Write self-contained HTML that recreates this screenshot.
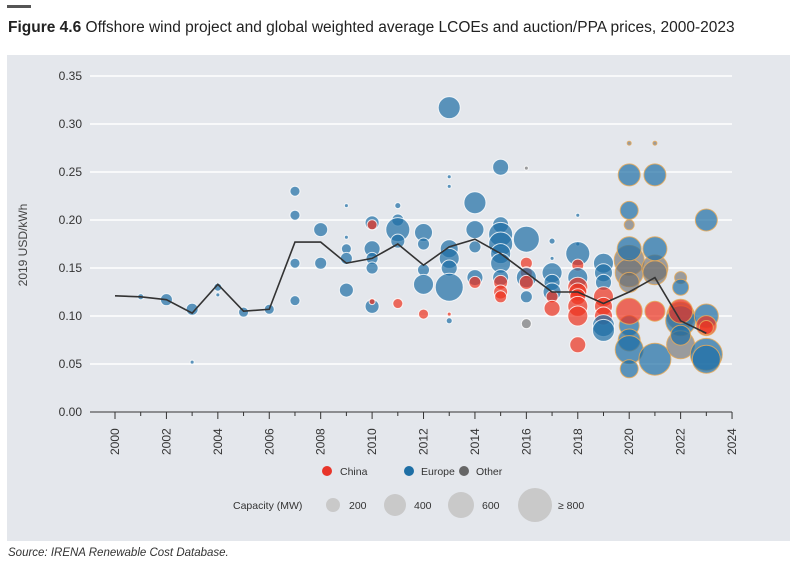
<!DOCTYPE html><html><head><meta charset="utf-8"><style>
body{margin:0;background:#fff;width:800px;height:566px;overflow:hidden;font-family:"Liberation Sans",sans-serif}
</style></head><body>
<svg width="800" height="566" xmlns="http://www.w3.org/2000/svg" font-family="Liberation Sans, sans-serif">
<rect x="7" y="5" width="24" height="3" fill="#555"/>
<text x="8" y="32" font-size="15.5" fill="#222"><tspan font-weight="bold">Figure 4.6</tspan>  Offshore wind project and global weighted average LCOEs and auction/PPA prices, 2000-2023</text>
<rect x="7" y="55" width="783" height="486" fill="#e4e7ec"/>
<g id="grid" stroke="#fff" stroke-width="1.5"></g>
<g id="yl" font-size="12" fill="#333" text-anchor="end"></g>
<line x1="90" y1="412" x2="732" y2="412" stroke="#333" stroke-width="1"/>
<g id="xt" stroke="#333"></g>
<g id="xl" font-size="12" fill="#333"></g>
<text transform="translate(27,245) rotate(-90)" font-size="12" fill="#444" text-anchor="middle">2019 USD/kWh</text>
<g id="b"></g>
<polyline id="ln" fill="none" stroke="#333" stroke-width="1.6"/>
<g font-size="10.5" fill="#333">
<circle cx="327" cy="471" r="5" fill="#e8352a"/><text x="340" y="475">China</text>
<circle cx="409" cy="471" r="5" fill="#1e6fa5"/><text x="421" y="475">Europe</text>
<circle cx="464" cy="471" r="5" fill="#666"/><text x="476" y="475">Other</text>
<text x="233" y="509">Capacity (MW)</text>
<circle cx="333" cy="505" r="7" fill="#c9c9c9"/><text x="349" y="509">200</text>
<circle cx="395" cy="505" r="11" fill="#c9c9c9"/><text x="414" y="509">400</text>
<circle cx="461" cy="505" r="13" fill="#c9c9c9"/><text x="482" y="509">600</text>
<circle cx="535" cy="505" r="17" fill="#c9c9c9"/><text x="558" y="509">≥ 800</text>
</g>
<text x="8" y="556" font-size="11.5" font-style="italic" fill="#333">Source: IRENA Renewable Cost Database.</text>
</svg>
<script>
var NS="http://www.w3.org/2000/svg";
function X(y){return 115+(y-2000)*25.71}function Y(v){return 412-v*960}
function el(p,t,a,txt){var e=document.createElementNS(NS,t);for(var k in a)e.setAttribute(k,a[k]);if(txt)e.textContent=txt;document.getElementById(p).appendChild(e);}
for(var i=1;i<=7;i++){var v=i*0.05;el("grid","line",{x1:90,x2:732,y1:Y(v),y2:Y(v)});}
for(var i=0;i<=7;i++){el("yl","text",{x:82,y:Y(i*0.05)+4},(i*0.05).toFixed(2));}
for(var y=2000;y<=2024;y++){el("xt","line",{x1:X(y),x2:X(y),y1:412,y2:y%2?416:419});}
for(var y=2000;y<=2024;y+=2){el("xl","text",{transform:"translate("+(X(y)+4)+",455) rotate(-90)"},y);}
var D={2001:[[.12,3,"E"]],2002:[[.117,6,"E"]],2003:[[.107,6,"E"],[.052,2,"E"]],2004:[[.13,4,"E"],[.122,2,"E"]],2005:[[.104,5,"E"]],2006:[[.107,5,"E"]],
2007:[[.23,5,"E"],[.205,5,"E"],[.155,5,"E"],[.116,5,"E"]],2008:[[.19,7,"E"],[.155,6,"E"]],
2009:[[.215,2,"E"],[.182,2,"E"],[.17,5,"E"],[.16,6,"E"],[.127,7,"E"]],
2010:[[.197,7,"E"],[.195,5,"C"],[.17,8,"E"],[.16,6,"E"],[.15,6,"E"],[.11,7,"E"],[.115,3,"C"]],
2011:[[.215,3,"E"],[.2,6,"E"],[.19,12,"E"],[.178,7,"E"],[.113,5,"C"]],
2012:[[.187,9,"E"],[.175,6,"E"],[.148,6,"E"],[.133,10,"E"],[.102,5,"C"]],
2013:[[.317,11,"E"],[.245,2,"E"],[.235,2,"E"],[.17,9,"E"],[.16,10,"E"],[.15,8,"E"],[.13,14,"E"],[.102,2,"C"],[.095,3,"E"]],
2014:[[.218,11,"E"],[.19,9,"E"],[.172,6,"E"],[.14,8,"E"],[.135,6,"C"]],
2015:[[.255,8,"E"],[.195,8,"E"],[.185,12,"E"],[.175,12,"E"],[.165,10,"E"],[.155,10,"E"],[.14,8,"E"],[.135,7,"C"],[.125,7,"C"],[.12,6,"C"]],
2016:[[.254,2,"O"],[.18,13,"E"],[.155,6,"C"],[.145,6,"C"],[.14,10,"E"],[.135,7,"C"],[.12,6,"E"],[.092,5,"O"]],
2017:[[.178,3,"E"],[.16,2,"E"],[.145,10,"E"],[.135,8,"E"],[.125,9,"E"],[.12,6,"C"],[.108,8,"C"]],
2018:[[.205,2,"E"],[.175,2,"E"],[.165,12,"E"],[.153,6,"C"],[.14,10,"E"],[.13,10,"C"],[.125,9,"C"],[.12,8,"C"],[.11,10,"C"],[.1,10,"C"],[.07,8,"C"]],
2019:[[.155,10,"E"],[.145,9,"E"],[.135,8,"E"],[.12,10,"C"],[.11,9,"C"],[.1,9,"C"],[.09,11,"E"],[.085,11,"E"]],
2020:[[.28,2,"O"],[.247,11,"E"],[.21,9,"E"],[.195,5,"O"],[.158,15,"O"],[.145,14,"O"],[.135,10,"O"],[.17,12,"E"],[.09,10,"E"],[.075,11,"E"],[.065,14,"E"],[.045,9,"E"],[.105,13,"C"]],
2021:[[.28,2,"O"],[.247,11,"E"],[.15,13,"O"],[.145,12,"O"],[.17,12,"E"],[.105,10,"C"],[.055,16,"E"]],
2022:[[.14,6,"O"],[.13,8,"E"],[.1,14,"O"],[.095,15,"E"],[.07,14,"O"],[.08,10,"E"],[.105,12,"C"]],
2023:[[.2,11,"E"],[.1,12,"E"],[.06,16,"E"],[.055,14,"E"],[.09,10,"C"],[.088,7,"C"]]};
var F={E:"rgba(30,110,165,0.7)",C:"rgba(238,50,30,0.7)",O:"rgba(105,105,105,0.6)"};
for(var y in D){D[y].forEach(function(d){el("b","circle",{cx:X(+y),cy:Y(d[0]),r:d[1],fill:F[d[2]],stroke:(+y>=2020?"rgba(230,170,90,0.85)":"rgba(255,255,255,0.8)"),"stroke-width":1});});}
var L=[.121,.12,.117,.103,.133,.105,.107,.177,.177,.155,.16,.175,.153,.172,.18,.165,.145,.125,.125,.113,.125,.14,.095,.082];
document.getElementById("ln").setAttribute("points",L.map(function(v,i){return X(2000+i)+","+Y(v)}).join(" "));
</script>
</body></html>
